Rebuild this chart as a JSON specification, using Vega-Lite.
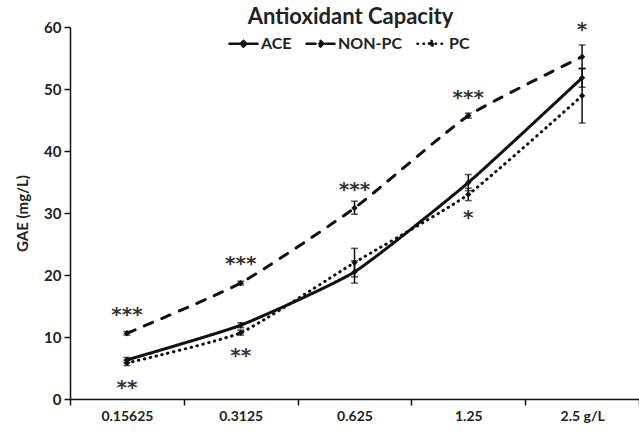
{
  "$schema": "https://vega.github.io/schema/vega-lite/v6.json",
  "width": 569,
  "height": 372,
  "autosize": {"type": "none"},
  "padding": {"left": 70, "top": 27, "right": 0, "bottom": 36},
  "background": "white",
  "config": {
    "view": {"stroke": null},
    "font": "Lato",
    "axis": {
      "grid": false,
      "domainColor": "#111",
      "tickColor": "#111",
      "domainWidth": 1.5,
      "tickWidth": 1.5,
      "tickSize": 6,
      "labelColor": "#222",
      "labelFont": "Lato",
      "labelFontWeight": "bold",
      "labelFontSize": 14,
      "titleFont": "Lato",
      "titleFontWeight": "bold",
      "titleColor": "#222"
    }
  },
  "title": {
    "text": "Antioxidant Capacity",
    "font": "Lato",
    "fontSize": 22,
    "fontWeight": "bold",
    "color": "#222",
    "anchor": "middle",
    "baseline": "alphabetic",
    "offset": -26,
    "dx": -4
  },
  "datasets": {
    "series": [
      {"conc": "0.15625", "series": "ACE", "gae": 6.3, "lo": 5.9, "hi": 6.7},
      {"conc": "0.3125", "series": "ACE", "gae": 11.9, "lo": 11.5, "hi": 12.3},
      {"conc": "0.625", "series": "ACE", "gae": 20.5, "lo": 18.7, "hi": 22.3},
      {"conc": "1.25", "series": "ACE", "gae": 34.9, "lo": 33.6, "hi": 36.2},
      {"conc": "2.5", "series": "ACE", "gae": 51.8, "lo": 50.3, "hi": 53.3},
      {"conc": "0.15625", "series": "NON-PC", "gae": 10.6, "lo": 10.3, "hi": 10.9},
      {"conc": "0.3125", "series": "NON-PC", "gae": 18.7, "lo": 18.4, "hi": 19.0},
      {"conc": "0.625", "series": "NON-PC", "gae": 30.8, "lo": 29.8, "hi": 31.9},
      {"conc": "1.25", "series": "NON-PC", "gae": 45.7, "lo": 45.3, "hi": 46.1},
      {"conc": "2.5", "series": "NON-PC", "gae": 55.2, "lo": 53.3, "hi": 57.1},
      {"conc": "0.15625", "series": "PC", "gae": 5.8, "lo": 5.4, "hi": 6.2},
      {"conc": "0.3125", "series": "PC", "gae": 10.7, "lo": 10.3, "hi": 11.1},
      {"conc": "0.625", "series": "PC", "gae": 22.0, "lo": 19.7, "hi": 24.3},
      {"conc": "1.25", "series": "PC", "gae": 33.0, "lo": 32.0, "hi": 34.0},
      {"conc": "2.5", "series": "PC", "gae": 48.9, "lo": 44.5, "hi": 53.3}
    ],
    "stars": [
      {"conc": "0.15625", "y": 14.0, "label": "***"},
      {"conc": "0.15625", "y": 2.3, "label": "**"},
      {"conc": "0.3125", "y": 22.3, "label": "***"},
      {"conc": "0.3125", "y": 7.4, "label": "**"},
      {"conc": "0.625", "y": 34.2, "label": "***"},
      {"conc": "1.25", "y": 49.0, "label": "***"},
      {"conc": "1.25", "y": 29.7, "label": "*"},
      {"conc": "2.5", "y": 60.0, "label": "*"}
    ]
  },
  "encoding": {
    "x": {
      "field": "conc",
      "type": "ordinal",
      "scale": {"type": "band", "domain": ["0.15625", "0.3125", "0.625", "1.25", "2.5"], "paddingInner": 0, "paddingOuter": 0},
      "axis": {
        "title": null,
        "labelAngle": 0,
        "tickBand": "extent",
        "labelPadding": 4,
        "labelExpr": "datum.label == '2.5' ? '2.5  g/L' : datum.label"
      }
    }
  },
  "layer": [
    {
      "data": {"name": "series"},
      "mark": {"type": "line", "interpolate": "cardinal", "tension": 0.5, "strokeWidth": 3, "strokeCap": "round", "color": "#111"},
      "encoding": {
        "y": {
          "field": "gae",
          "type": "quantitative",
          "scale": {"domain": [0, 60], "nice": false},
          "axis": {"title": "GAE (mg/L)", "titleFontSize": 15, "titlePadding": 13, "values": [0, 10, 20, 30, 40, 50, 60], "labelPadding": 3, "labelFontSize": 15}
        },
        "detail": {"field": "series"},
        "strokeDash": {
          "field": "series",
          "type": "nominal",
          "scale": {"domain": ["ACE", "NON-PC", "PC"], "range": [[1, 0], [9, 10], [0.5, 5.5]]},
          "legend": {
            "title": null,
            "orient": "none",
            "legendX": 158,
            "legendY": 1,
            "direction": "horizontal",
            "padding": 0,
            "columnPadding": 9,
            "labelOffset": 2,
            "labelFont": "Lato",
            "labelFontSize": 16,
            "labelFontWeight": "bold",
            "labelColor": "#222",
            "symbolType": "M-1,0H1M0,-0.2L0.2,0L0,0.2L-0.2,0Z",
            "symbolSize": 784,
            "symbolStrokeWidth": 2.5,
            "symbolStrokeColor": "#111",
            "symbolFillColor": "#111",
            "encode": {
              "symbols": {"update": {"fill": {"value": "#111"}, "stroke": {"value": "#111"}, "strokeCap": {"value": "round"}}}
            }
          }
        }
      }
    },
    {
      "data": {"name": "series"},
      "mark": {"type": "rule", "strokeWidth": 1.5, "color": "#111"},
      "encoding": {
        "y": {"field": "lo", "type": "quantitative"},
        "y2": {"field": "hi"}
      }
    },
    {
      "data": {"name": "series"},
      "mark": {"type": "tick", "size": 7, "thickness": 1.5, "color": "#111"},
      "encoding": {"y": {"field": "lo", "type": "quantitative"}}
    },
    {
      "data": {"name": "series"},
      "mark": {"type": "tick", "size": 7, "thickness": 1.5, "color": "#111"},
      "encoding": {"y": {"field": "hi", "type": "quantitative"}}
    },
    {
      "data": {"name": "series"},
      "mark": {"type": "point", "shape": "diamond", "filled": true, "size": 40, "color": "#111", "opacity": 1},
      "encoding": {"y": {"field": "gae", "type": "quantitative"}}
    },
    {
      "data": {"name": "stars"},
      "mark": {"type": "text", "font": "DejaVu Sans", "fontSize": 20, "fontWeight": "bold", "color": "#333", "baseline": "middle", "align": "center", "dy": 3},
      "encoding": {
        "y": {"field": "y", "type": "quantitative"},
        "text": {"field": "label"}
      }
    }
  ]
}
